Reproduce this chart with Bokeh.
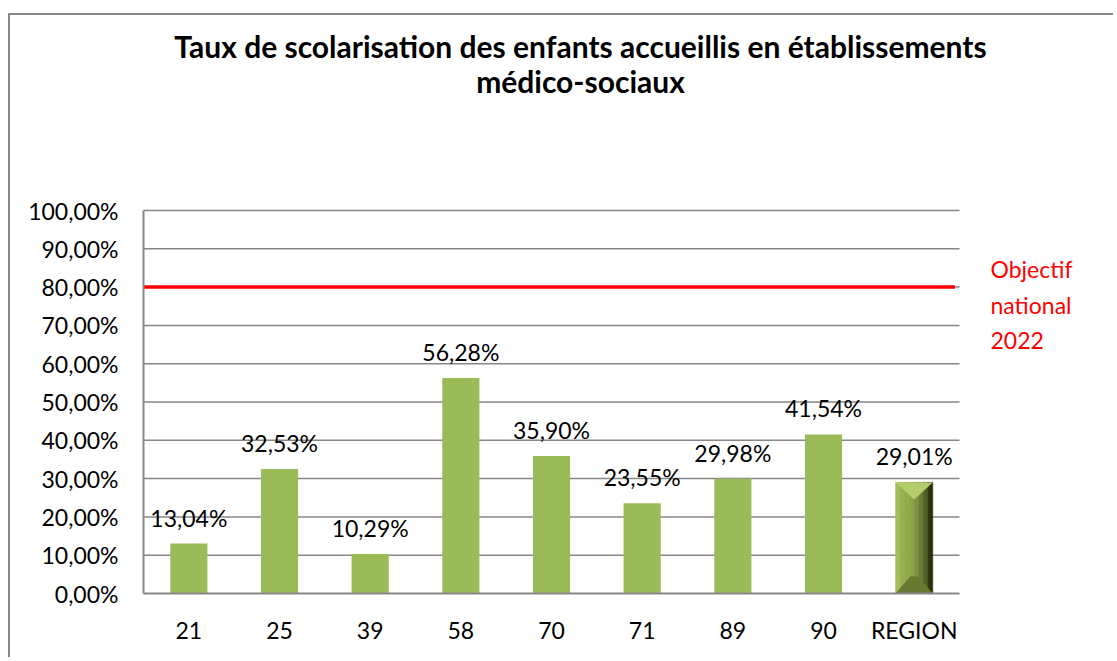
from bokeh.plotting import figure
from bokeh.models import FixedTicker, Label, Range1d
from bokeh.core.properties import value
from bokeh.embed import file_html
from bokeh.resources import INLINE
import numpy as np

# ---- data ----
categories = ["21", "25", "39", "58", "70", "71", "89", "90", "REGION"]
values = [13.04, 32.53, 10.29, 56.28, 35.90, 23.55, 29.98, 41.54, 29.01]
value_labels = ["13,04%", "32,53%", "10,29%", "56,28%", "35,90%",
                "23,55%", "29,98%", "41,54%", "29,01%"]
y_ticks = [0, 10, 20, 30, 40, 50, 60, 70, 80, 90, 100]
y_tick_labels = ["0,00%", "10,00%", "20,00%", "30,00%", "40,00%", "50,00%",
                 "60,00%", "70,00%", "80,00%", "90,00%", "100,00%"]
objective = 80
objective_lines = ["Objectif", "national", "2022"]
title_lines = ["Taux de scolarisation des enfants accueillis en établissements",
               "médico-sociaux"]

FONT = "Lato"
GRAY = "#878787"
GREEN = "#9bbb59"

# ---- layout (pixels) ----
W, H = 1105, 644
ML, MR, MB = 133, 5, 66          # frame margins inside the figure
CAT_PX = 816 / len(categories)   # pixels per category
PCT_PX = 383 / 100               # pixels per percent
n = len(categories)
x_end = (W - ML - MR) / CAT_PX
y_end = (H - MB) / PCT_PX

xs = [i + 0.5 for i in range(n)]

p = figure(width=W, height=H, output_backend="svg", toolbar_location=None,
           x_range=Range1d(0, x_end), y_range=Range1d(0, y_end),
           min_border=0, min_border_left=ML, min_border_right=MR,
           min_border_top=0, min_border_bottom=MB)
p.styles = {"border-left": "2px solid " + GRAY, "border-top": "2px solid " + GRAY,
            "margin-top": "13px", "margin-left": "8px"}

p.outline_line_color = None
p.xgrid.grid_line_color = None
p.ygrid.grid_line_color = None

p.yaxis.ticker = FixedTicker(ticks=y_ticks)
p.yaxis.major_label_overrides = {t: l for t, l in zip(y_ticks, y_tick_labels)}
p.yaxis.bounds = (0, 100)
p.xaxis.ticker = FixedTicker(ticks=xs)
p.xaxis.major_label_overrides = {x: c for x, c in zip(xs, categories)}
p.xaxis.bounds = (0, n)
for ax in (p.xaxis, p.yaxis):
    ax.axis_line_color = GRAY
    ax.axis_line_width = 2
    ax.major_tick_line_color = None
    ax.minor_tick_line_color = None
    ax.major_tick_out = 0
    ax.major_tick_in = 0
    ax.major_label_text_font = FONT
    ax.major_label_text_font_size = "23px"
    ax.major_label_text_color = "black"
p.yaxis.major_label_standoff = 25
p.xaxis.major_label_standoff = 22

# horizontal grid lines limited to the category span
p.segment(x0=0, x1=n, y0=y_ticks[1:], y1=y_ticks[1:], line_color=GRAY,
          line_width=1.5)

bar_w = 0.41
# department bars
p.vbar(x=xs[:-1], top=values[:-1], width=bar_w, fill_color=GREEN, line_color=None)

# REGION bar with bevel look
cx = xs[-1]
v = values[-1]
hw = bar_w / 2
strip_colors = ["#a3bd5b", "#96b050", "#91aa4c", "#8ca548", "#7b9240",
                "#687c35", "#4f6126", "#28330e"]
edges = np.linspace(cx - hw, cx + hw, len(strip_colors) + 1)
p.quad(left=edges[:-1], right=edges[1:], bottom=0, top=v,
       fill_color=strip_colors, line_color=strip_colors, line_width=0.6)
dy_top = v * 0.153
p.patch(x=[cx - hw, cx + hw, cx], y=[v, v, v - dy_top],
        fill_color="#b3cd6a", line_color=None)
dy_bot = v * 0.153
p.patch(x=[cx - hw, cx + hw, cx + 0.045, cx - 0.045], y=[0, 0, dy_bot, dy_bot],
        fill_color="#667a30", line_color=None)

# objective line
p.segment(x0=0, x1=n - 0.05, y0=objective, y1=objective, line_color="#ff0000",
          line_width=3.5)
for line_text, off in zip(objective_lines, [18, -18, -53]):
    p.add_layout(Label(x=n, y=objective, x_offset=31, y_offset=off,
                       text=line_text, text_color="#ff0000", text_font=FONT,
                       text_font_size="23px", text_baseline="middle",
                       text_align="left"))

# data labels
p.text(x=xs, y=values, text=value_labels, text_align="center",
       text_baseline="middle", y_offset=-26, text_font=value(FONT),
       text_font_size="23px", text_color="black")

# title (two centred lines)
title_cx = (580 - 143) / CAT_PX
for line_text, sy in zip(title_lines, [45, 80]):
    p.add_layout(Label(x=title_cx, y=(593 - sy) / PCT_PX, text=line_text,
                       text_font=FONT, text_font_style="bold",
                       text_font_size="30px", text_color="black",
                       text_align="center", text_baseline="middle"))

open("out.html", "w").write(file_html(p, INLINE))
